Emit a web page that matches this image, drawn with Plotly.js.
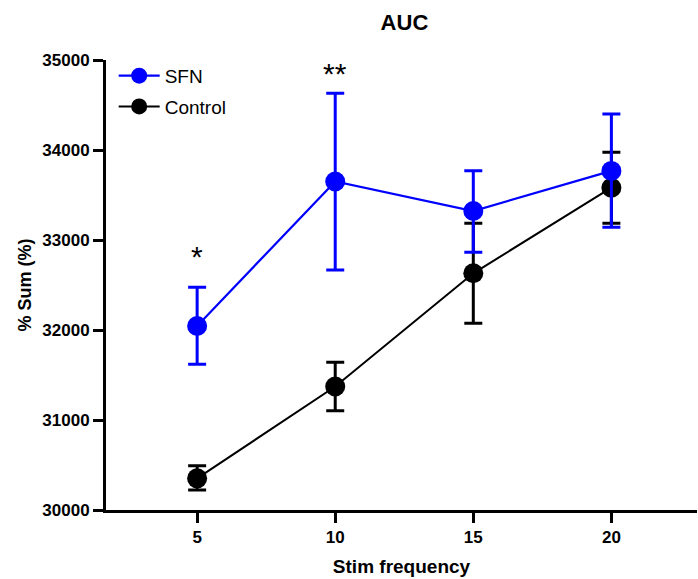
<!DOCTYPE html>
<html>
<head>
<meta charset="utf-8">
<script src="https://cdn.plot.ly/plotly-3.0.1.min.js"></script>
<style>html,body{margin:0;padding:0;background:#fff;}#chart{width:698px;height:579px;}</style>
</head>
<body>
<div id="chart"></div>
<script>
var freq = [5, 10, 15, 20];
var sfnMean = [32045, 33650, 33322, 33768];
var sfnUpper = [32475, 34630, 33770, 34400];
var sfnLower = [31620, 32667, 32863, 33141];
var ctrlMean = [30352, 31372, 32630, 33581];
var ctrlUpper = [30493, 31642, 33186, 33975];
var ctrlLower = [30222, 31104, 32074, 33186];
var tickVals = [30000, 31000, 32000, 33000, 34000, 35000];
var sigX = [5, 10];
var sigY = [32815, 34855];
var sigText = ['*', '**'];

function diff(a, b) { return a.map(function (v, i) { return v - b[i]; }); }

var FONT = 'Arial, "Liberation Sans", sans-serif';

var control = {
  x: freq, y: ctrlMean, name: 'Control', type: 'scatter', mode: 'lines+markers', legendgroup: 'c', legendrank: 2,
  line: {color: '#000000', width: 2},
  marker: {color: '#000000', size: 20, symbol: 'circle'},
  error_y: {type: 'data', symmetric: false, array: diff(ctrlUpper, ctrlMean), arrayminus: diff(ctrlMean, ctrlLower),
            color: '#000000', thickness: 3, width: 9}
};
var sfn = {
  x: freq, y: sfnMean, name: 'SFN', type: 'scatter', mode: 'lines+markers', legendgroup: 's', legendrank: 1,
  line: {color: '#0000ff', width: 2.2},
  marker: {color: '#0000ff', size: 20, symbol: 'circle'},
  error_y: {type: 'data', symmetric: false, array: diff(sfnUpper, sfnMean), arrayminus: diff(sfnMean, sfnLower),
            color: '#0000ff', thickness: 3, width: 9}
};

var annotations = sigX.map(function (x, i) {
  return {x: x, y: sigY[i], xref: 'x', yref: 'y', text: sigText[i], showarrow: false,
          font: {family: FONT, size: 30, color: '#000'}, yanchor: 'middle'};
});

var layout = {
  width: 698, height: 579,
  margin: {l: 106, r: 1, t: 60, b: 69, pad: 0},
  paper_bgcolor: '#ffffff', plot_bgcolor: '#ffffff',
  font: {family: FONT, color: '#000'},
  showlegend: true,
  legend: {x: 0.013, y: 1.007, xanchor: 'left', yanchor: 'top', traceorder: 'grouped', tracegroupgap: 3,
           itemwidth: 41,
           font: {family: FONT, size: 19, color: '#000'}, bgcolor: 'rgba(0,0,0,0)', itemsizing: 'trace'},
  title: {text: 'AUC', font: {family: FONT, size: 22, weight: 'bold', color: '#000'},
          xref: 'paper', x: 0.505, xanchor: 'center', yref: 'container', y: 0.962, yanchor: 'middle'},
  xaxis: {range: [1.7, 23.1], tickvals: freq, ticktext: freq.map(String),
          showline: true, linewidth: 3, linecolor: '#000', ticks: 'outside', ticklen: 10, tickwidth: 3, tickcolor: '#000',
          showgrid: false, zeroline: false,
          tickfont: {family: FONT, size: 17, weight: 'bold', color: '#000'},
          title: {text: 'Stim frequency', font: {family: FONT, size: 19, weight: 'bold', color: '#000'}, standoff: 14}},
  yaxis: {range: [30000, 35000], tickvals: tickVals, tickformat: 'd',
          showline: true, linewidth: 3, linecolor: '#000', ticks: 'outside', ticklen: 10, tickwidth: 3, tickcolor: '#000',
          showgrid: false, zeroline: false,
          tickfont: {family: FONT, size: 17, weight: 'bold', color: '#000'},
          title: {text: '% Sum (%)', font: {family: FONT, size: 18, weight: 'bold', color: '#000'}, standoff: 7}},
  annotations: annotations
};

Plotly.newPlot('chart', [control, sfn], layout, {displayModeBar: false, responsive: false});
</script>
</body>
</html>
